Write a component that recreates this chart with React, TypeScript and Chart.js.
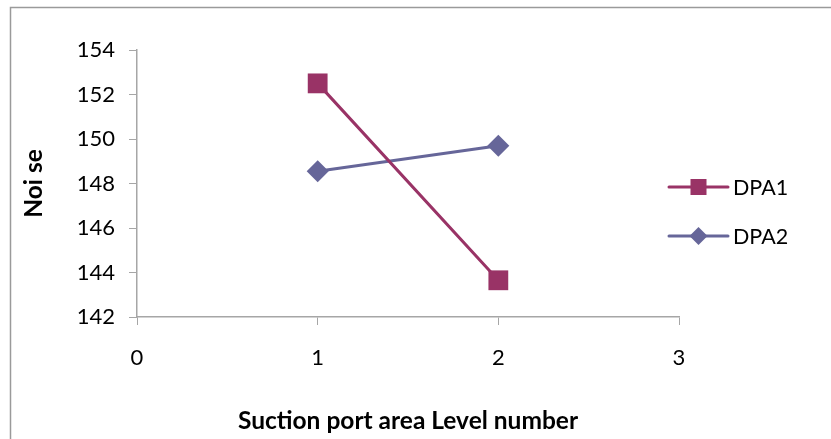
import React, { useEffect, useRef } from "react";
import { Chart, registerables } from "chart.js";

Chart.register(...registerables);

// Suction port area level (x) and measured noise for each design
const levels = [1, 2];
const dpa1Noise = [152.5, 143.65];
const dpa2Noise = [148.55, 149.7];

const seriesNames = ["DPA1", "DPA2"];
const seriesColors = ["#993366", "#666699"];

const xMin = 0;
const xMax = 3;
const yMin = 142;
const yMax = 154;
const yStep = 2;

const xTitle = "Suction port area Level number";
const yTitle = "Noi se";

const FONT = "Lato, 'Open Sans', sans-serif";
const AXIS_GRAY = "#a6a6a6";

// Frame lines along the top and left edges of the chart box
const framePlugin = {
  id: "frame",
  beforeDraw(chart: any) {
    const { ctx, width, height } = chart;
    ctx.save();
    ctx.strokeStyle = "#9a9a9a";
    ctx.lineWidth = 1.5;
    ctx.beginPath();
    ctx.moveTo(10.5, height);
    ctx.lineTo(10.5, 7.5);
    ctx.lineTo(width, 7.5);
    ctx.stroke();
    ctx.restore();
  },
};

// Legend with a short line and the series marker, to the right of the plot
const lineLegendPlugin = {
  id: "lineLegend",
  afterDraw(chart: any) {
    const { ctx, chartArea } = chart;
    const x0 = chartArea.right - 10;
    const lineLen = 59;
    const rows = [chartArea.top + 137, chartArea.top + 186];
    chart.data.datasets.forEach((ds: any, i: number) => {
      const y = rows[i];
      const cx = x0 + lineLen / 2;
      ctx.save();
      ctx.strokeStyle = ds.borderColor;
      ctx.lineWidth = 3;
      ctx.lineCap = "round";
      ctx.beginPath();
      ctx.moveTo(x0, y);
      ctx.lineTo(x0 + lineLen, y);
      ctx.stroke();
      ctx.fillStyle = ds.borderColor;
      if (ds.pointStyle === "rect") {
        ctx.fillRect(cx - 8, y - 8, 16, 16);
      } else {
        const r = 9;
        ctx.beginPath();
        ctx.moveTo(cx, y - r);
        ctx.lineTo(cx + r, y);
        ctx.lineTo(cx, y + r);
        ctx.lineTo(cx - r, y);
        ctx.closePath();
        ctx.fill();
      }
      ctx.fillStyle = "#000";
      ctx.font = `21.5px ${FONT}`;
      ctx.textBaseline = "middle";
      ctx.textAlign = "left";
      ctx.fillText(ds.label, x0 + lineLen + 5, y + 1);
      ctx.restore();
    });
  },
};

export default function App() {
  const canvasRef = useRef<HTMLCanvasElement | null>(null);

  useEffect(() => {
    const canvas = canvasRef.current;
    if (!canvas) return;
    const series = [dpa1Noise, dpa2Noise];
    const chart = new Chart(canvas, {
      type: "line",
      data: {
        datasets: series.map((vals, i) => ({
          label: seriesNames[i],
          data: levels.map((lv, j) => ({ x: lv, y: vals[j] })),
          borderColor: seriesColors[i],
          backgroundColor: seriesColors[i],
          pointBackgroundColor: seriesColors[i],
          pointBorderColor: seriesColors[i],
          pointBorderWidth: 0,
          borderWidth: 3,
          borderCapStyle: "round",
          pointStyle: i === 0 ? "rect" : "rectRot",
          pointRadius: i === 0 ? 14 : 11,
          pointHoverRadius: i === 0 ? 14 : 11,
          tension: 0,
          fill: false,
        })),
      },
      options: {
        animation: false,
        responsive: false,
        events: [],
        layout: { padding: { left: 10, right: 152, top: 50, bottom: 0 } },
        plugins: {
          legend: { display: false },
          tooltip: { enabled: false },
        },
        scales: {
          x: {
            type: "linear",
            min: xMin,
            max: xMax,
            ticks: {
              stepSize: 1,
              color: "#000",
              padding: 20,
              font: { family: FONT, size: 22 },
            },
            grid: {
              drawOnChartArea: false,
              drawTicks: true,
              tickLength: 8,
              color: AXIS_GRAY,
            },
            border: { color: AXIS_GRAY, width: 1.5 },
            title: {
              display: true,
              text: xTitle,
              color: "#000",
              font: { family: FONT, size: 24.5, weight: "bold" },
              padding: { top: 0, bottom: 3 },
            },
            afterFit(scale: any) {
              scale.height = 439 - 317;
            },
          },
          y: {
            type: "linear",
            min: yMin,
            max: yMax,
            ticks: {
              stepSize: yStep,
              color: "#000",
              padding: 14,
              font: { family: FONT, size: 22 },
            },
            grid: {
              drawOnChartArea: false,
              drawTicks: true,
              tickLength: 8,
              color: AXIS_GRAY,
            },
            border: { color: AXIS_GRAY, width: 1.5 },
            title: {
              display: true,
              text: yTitle,
              color: "#000",
              font: { family: FONT, size: 24.5, weight: "bold" },
              padding: { top: 9, bottom: 0 },
            },
            afterFit(scale: any) {
              scale.width = 137 - 10;
            },
          },
        },
      },
      plugins: [framePlugin, lineLegendPlugin],
    } as any);
    return () => chart.destroy();
  }, []);

  return (
    <div
      style={{
        position: "absolute",
        left: 0,
        top: 0,
        width: 831,
        height: 439,
        background: "#fff",
      }}
    >
      <canvas ref={canvasRef} width={831} height={439} />
    </div>
  );
}
